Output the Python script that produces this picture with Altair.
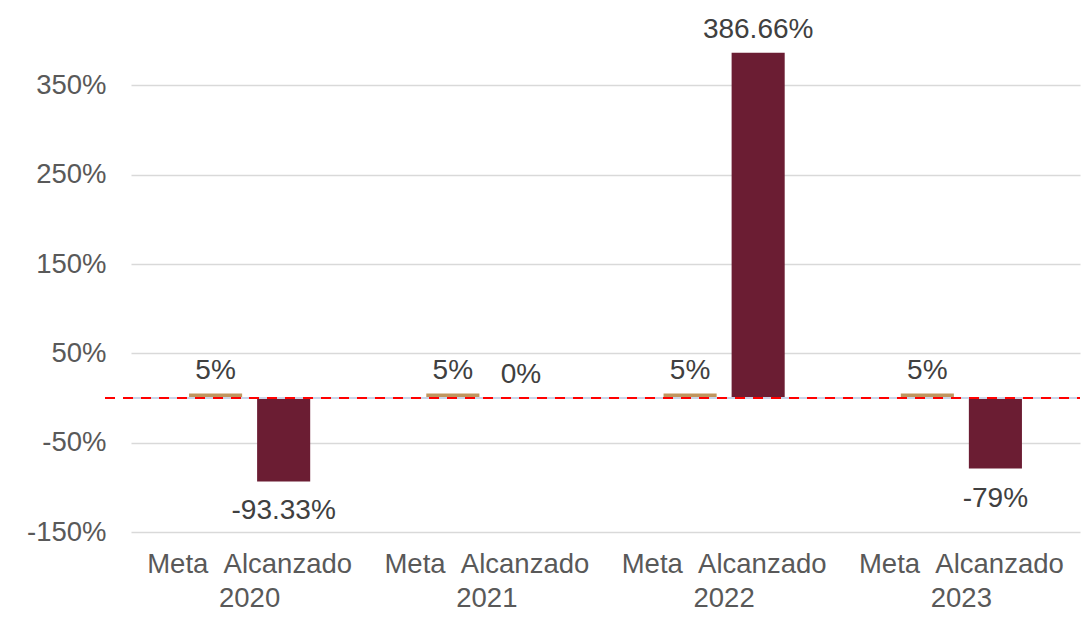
import altair as alt
import pandas as pd

years = ["2020", "2021", "2022", "2023"]
types = ["Meta", "Alcanzado"]
meta = [5, 5, 5, 5]
alcanzado = [-93.33, 0, 386.66, -79]
y_ticks = [-150, -50, 50, 150, 250, 350]
colors = ["#C0955E", "#6B1D33"]

rows = []
for i, yr in enumerate(years):
    for t, v in ((types[0], meta[i]), (types[1], alcanzado[i])):
        rows.append({"year": yr, "type": t, "value": v, "label": f"{v:g}%"})
df = pd.DataFrame(rows)

FONT = "Liberation Sans"
sub = "\u00a0\u00a0".join(types)

x = alt.X(
    "year:N", sort=years, title=None,
    scale=alt.Scale(paddingInner=0, paddingOuter=0),
    axis=alt.Axis(
        domain=False, ticks=False, grid=False,
        labelExpr=f"['{sub}', datum.label]",
        labelFont=FONT, labelFontSize=27.5, labelColor="#595959", labelLimit=0,
        labelLineHeight=34, labelPadding=18, labelAngle=0,
    ),
)
xo = alt.XOffset("type:N", sort=types, scale=alt.Scale(paddingInner=0.22, paddingOuter=0.853))
y = alt.Y(
    "value:Q", title=None,
    scale=alt.Scale(domain=[-150, 430], nice=False, zero=False),
    axis=alt.Axis(
        values=y_ticks, labelExpr="datum.value + '%'",
        domain=False, ticks=False, grid=True, gridColor="#D9D9D9", gridWidth=1.5,
        labelFont=FONT, labelFontSize=27.5, labelColor="#595959", labelPadding=25,
    ),
)

base = alt.Chart(df)

bars = base.mark_bar().encode(
    x=x, xOffset=xo, y=y,
    color=alt.Color("type:N", sort=types, scale=alt.Scale(domain=types, range=colors), legend=None),
)

zero_line = base.mark_rule(color="#C9D4E8", strokeWidth=2).encode(y=alt.datum(0))
red_line = base.mark_rule(color="#FF0000", strokeWidth=2, strokeDash=[10, 8]).encode(
    y=alt.datum(0), x=alt.value(-26), x2=alt.value(949)
)

pos_text = base.transform_filter("datum.value >= 0").mark_text(
    baseline="bottom", dy=-9, font=FONT, fontSize=28, color="#404040"
).encode(x=x, xOffset=xo, y=y, text="label:N")

neg_text = base.transform_filter("datum.value < 0").mark_text(
    baseline="top", dy=16, font=FONT, fontSize=28, color="#404040"
).encode(x=x, xOffset=xo, y=y, text="label:N")

chart = alt.layer(bars, zero_line, red_line, pos_text, neg_text).properties(
    width=949, height=518,
    padding={"left": 123, "top": 6, "right": 1, "bottom": 85},
    autosize=alt.AutoSizeParams(type="none"),
    background="white",
).configure(font=FONT, view=alt.ViewConfig(stroke=None))

chart.save("out.html", embed_options={"renderer": "svg", "actions": False})
